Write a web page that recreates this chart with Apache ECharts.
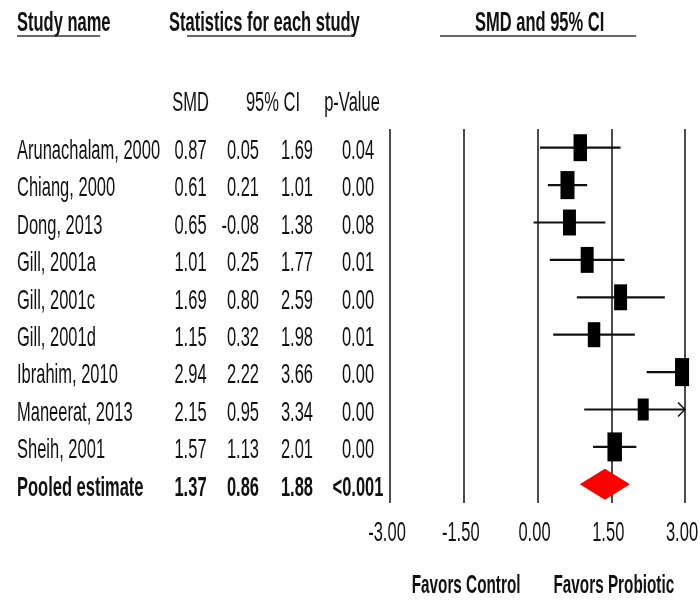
<!DOCTYPE html>
<html><head><meta charset="utf-8">
<script src="https://cdn.jsdelivr.net/npm/echarts@6/dist/echarts.min.js"></script>
<style>html,body{margin:0;padding:0;background:#fff}#c{width:700px;height:601px}</style>
</head><body><div id="c"></div>
<script>
// ---- data ----
const studies = ['Arunachalam, 2000','Chiang, 2000','Dong, 2013','Gill, 2001a','Gill, 2001c','Gill, 2001d','Ibrahim, 2010','Maneerat, 2013','Sheih, 2001'];
const smd    = [0.87, 0.61, 0.65, 1.01, 1.69, 1.15, 2.94, 2.15, 1.57];
const lower  = [0.05, 0.21, -0.08, 0.25, 0.80, 0.32, 2.22, 0.95, 1.13];
const upper  = [1.69, 1.01, 1.38, 1.77, 2.59, 1.98, 3.66, 3.34, 2.01];
const pValues = ['0.04','0.00','0.08','0.01','0.00','0.01','0.00','0.00','0.00'];
const weights = [10.8, 11.7, 10.0, 10.0, 10.0, 9.3, 11.7, 7.2, 12.5];
const pooledName = 'Pooled estimate';
const pooledSmd = 1.37, pooledLower = 0.86, pooledUpper = 1.88, pooledP = '<0.001';
const tickValues = [-3, -1.5, 0, 1.5, 3];
const tickLabels = ['-3.00','-1.50','0.00','1.50','3.00'];
const fmt = v => v.toFixed(2);

// ---- chart ----
const XMIN = -3, XMAX = 3;
const rows = studies.concat([pooledName]);
const chart = echarts.init(document.getElementById('c'), null, {renderer: 'canvas'});

function renderStudy(params, api) {
  const i = api.value(0), est = api.value(1), lo = api.value(2), hi = api.value(3), w = api.value(4);
  const pEst = api.coord([est, i]);
  const pLo = api.coord([Math.max(lo, XMIN), i]);
  const pHi = api.coord([Math.min(hi, XMAX), i]);
  const h = 8.2 * Math.sqrt(w), wd = h * 0.5;
  const children = [
    {type: 'line', shape: {x1: pLo[0], y1: pLo[1], x2: pHi[0], y2: pHi[1]}, style: {stroke: '#111', lineWidth: 2.2}}
  ];
  if (hi > XMAX) {
    children.push({type: 'polyline', shape: {points: [[pHi[0] - 7, pHi[1] - 7], [pHi[0], pHi[1]], [pHi[0] - 7, pHi[1] + 7]]},
      style: {stroke: '#111', lineWidth: 1.5, fill: null}});
  }
  children.push({type: 'rect', shape: {x: pEst[0] - wd / 2, y: pEst[1] - h / 2, width: wd, height: h}, style: {fill: '#000'}});
  return {type: 'group', children};
}
function renderDiamond(params, api) {
  const i = api.value(0);
  const c = api.coord([api.value(1), i]);
  const l = api.coord([api.value(2), i]);
  const r = api.coord([api.value(3), i]);
  const hh = 15.5;
  return {type: 'polygon', shape: {points: [[l[0], l[1]], [c[0], c[1] - hh], [r[0], r[1]], [c[0], c[1] + hh]]},
    style: {fill: '#ff0000'}};
}

chart.setOption({
  animation: false,
  backgroundColor: '#fff',
  grid: {left: 390, right: 15, top: 129, bottom: 98, containLabel: false},
  xAxis: {type: 'value', min: XMIN, max: XMAX, interval: 1.5,
    axisLine: {show: false}, axisTick: {show: false}, axisLabel: {show: false},
    splitLine: {show: true, showMinLine: true, showMaxLine: true, lineStyle: {color: '#111', width: 1.5}}},
  yAxis: {type: 'category', data: rows, inverse: true, show: false},
  series: [
    {type: 'custom', renderItem: renderStudy, clip: false, encode: {x: 1, y: 0},
      data: studies.map((s, i) => [i, smd[i], lower[i], upper[i], weights[i]])},
    {type: 'custom', renderItem: renderDiamond, clip: false, encode: {x: 1, y: 0},
      data: [[studies.length, pooledSmd, pooledLower, pooledUpper]]}
  ]
});

// ---- table text (positioned via axis scales) ----
const SY = 1.72;
const FONT = '"Liberation Sans", Arial, sans-serif';
const COL = '#111';
function txt(text, x, y, align, bold, size, sy) {
  return {type: 'text', x: x, y: y, scaleY: sy || SY, silent: true,
    style: {text: text, fill: COL, font: (bold ? 'bold ' : '') + (size || 16.5) + 'px ' + FONT,
      textAlign: align, align: align, textVerticalAlign: 'middle', verticalAlign: 'middle'}};
}
const g = [];
// headers
g.push(txt('Study name', 17, 23, 'left', true));
g.push(txt('Statistics for each study', 169, 23, 'left', true));
g.push(txt('SMD and 95% CI', 475, 23, 'left', true));
g.push({type: 'line', shape: {x1: 17, y1: 36, x2: 100, y2: 36}, style: {stroke: '#333', lineWidth: 1.5}});
g.push({type: 'line', shape: {x1: 187, y1: 36, x2: 353, y2: 36}, style: {stroke: '#333', lineWidth: 1.5}});
g.push({type: 'line', shape: {x1: 440, y1: 36, x2: 636, y2: 36}, style: {stroke: '#333', lineWidth: 1.5}});
g.push(txt('SMD', 190.5, 103, 'center', false));
g.push(txt('95% CI', 273, 103, 'center', false));
g.push(txt('p-Value', 352, 103, 'center', false));
// rows
rows.forEach((name, i) => {
  const y = chart.convertToPixel({yAxisIndex: 0}, i) + 3.5;
  const isPooled = i === studies.length;
  const e = isPooled ? pooledSmd : smd[i];
  const lo = isPooled ? pooledLower : lower[i];
  const hi = isPooled ? pooledUpper : upper[i];
  const p = isPooled ? pooledP : pValues[i];
  g.push(txt(name, 17, y, 'left', isPooled));
  g.push(txt(fmt(e), 190.5, y, 'center', isPooled));
  g.push(txt(fmt(lo), 259, y, 'right', isPooled));
  g.push(txt(fmt(hi), 313, y, 'right', isPooled));
  g.push(txt(p, 358, y, 'center', isPooled));
});
// tick labels
tickValues.forEach((v, k) => {
  const x = chart.convertToPixel({xAxisIndex: 0}, v) - 3;
  g.push(txt(tickLabels[k], x, 533, 'center', false));
});
// favors labels
const x0 = chart.convertToPixel({xAxisIndex: 0}, 0);
g.push(txt('Favors Control', x0 - 17, 586, 'right', true, 15.3));
g.push(txt('Favors Probiotic', x0 + 16, 586, 'left', true, 15.3));
chart.setOption({graphic: g});
</script>
</body></html>
